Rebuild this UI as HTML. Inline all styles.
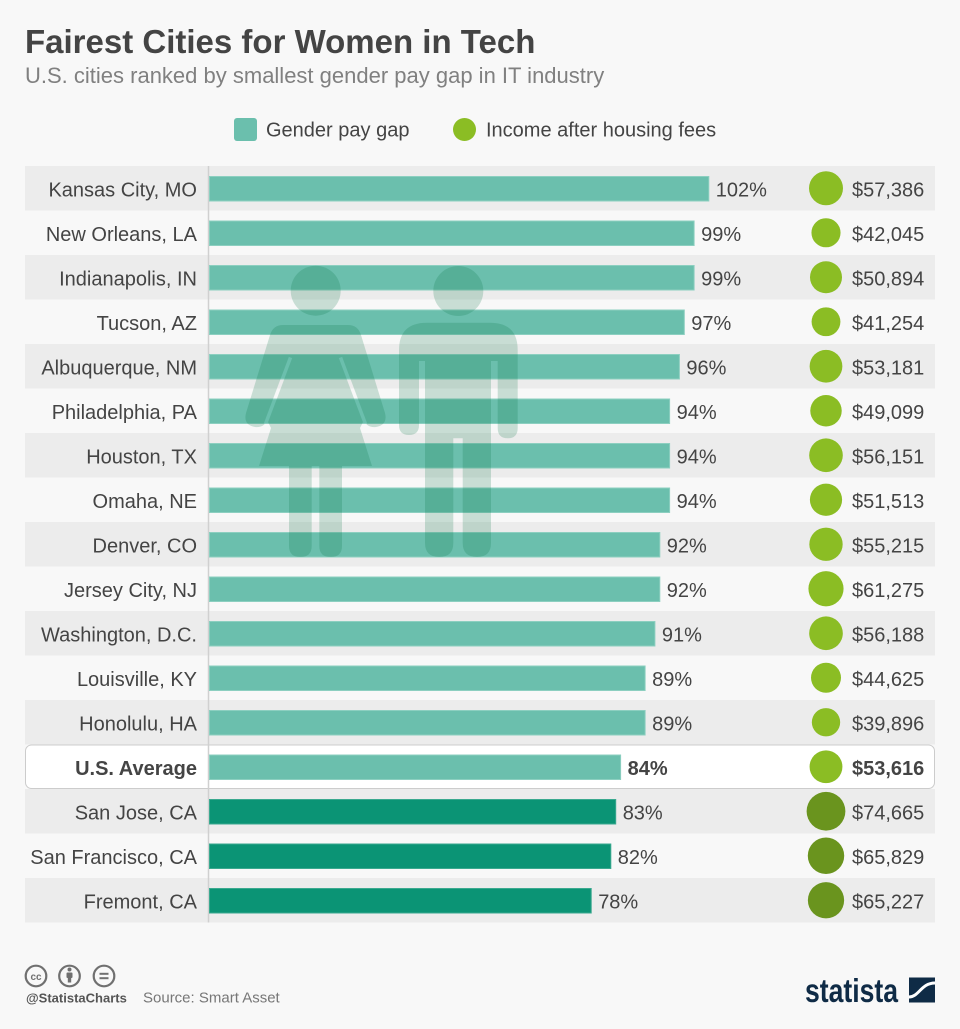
<!DOCTYPE html>
<html>
<head>
<meta charset="utf-8">
<style>
  html, body { margin:0; padding:0; background:#f8f8f8; }
  body { width:960px; height:1029px; overflow:hidden; }
  svg { display:block; font-family:"Liberation Sans", Arial, sans-serif; }
  .lbl { font-size:20px; fill:#444; }
  .b { font-weight:bold; }
</style>
</head>
<body>
<svg width="960" height="1029" viewBox="0 0 960 1029" xmlns="http://www.w3.org/2000/svg">
  <rect x="0" y="0" width="960" height="1029" fill="#f8f8f8"/>

  <!-- Title -->
  <text x="25" y="53" font-size="33" font-weight="bold" fill="#444">Fairest Cities for Women in Tech</text>
  <text x="25" y="83" font-size="22" fill="#808080">U.S. cities ranked by smallest gender pay gap in IT industry</text>

  <!-- Legend -->
  <rect x="234" y="118" width="23" height="23" rx="3" fill="#6bbfad"/>
  <text x="266" y="136.5" class="lbl">Gender pay gap</text>
  <circle cx="464.5" cy="129.5" r="11.5" fill="#8bbd24"/>
  <text x="486" y="136.5" class="lbl">Income after housing fees</text>

  <!-- Row bands -->
  <g fill="#ececec">
    <rect x="25" y="166" width="910" height="44.5"/>
    <rect x="25" y="255" width="910" height="44.5"/>
    <rect x="25" y="344" width="910" height="44.5"/>
    <rect x="25" y="433" width="910" height="44.5"/>
    <rect x="25" y="522" width="910" height="44.5"/>
    <rect x="25" y="611" width="910" height="44.5"/>
    <rect x="25" y="700" width="910" height="44.5"/>
    <rect x="25" y="789" width="910" height="44.5"/>
    <rect x="25" y="878" width="910" height="44.5"/>
  </g>
  <!-- US average box -->
  <rect x="25.5" y="745" width="909" height="43.5" rx="6" fill="#ffffff" stroke="#cccccc" stroke-width="1"/>

  <!-- axis line -->
  <line x1="208.5" y1="166" x2="208.5" y2="922.5" stroke="#d0d0d0" stroke-width="1.5"/>

  <!-- Bars -->
  <g fill="#6bbfad" stroke="#8ccfc0" stroke-width="1">
    <rect x="209.5" y="176.5" width="499.3" height="24.5"/>
    <rect x="209.5" y="221" width="484.6" height="24.5"/>
    <rect x="209.5" y="265.5" width="484.6" height="24.5"/>
    <rect x="209.5" y="310" width="474.8" height="24.5"/>
    <rect x="209.5" y="354.5" width="469.9" height="24.5"/>
    <rect x="209.5" y="399" width="460.1" height="24.5"/>
    <rect x="209.5" y="443.5" width="460.1" height="24.5"/>
    <rect x="209.5" y="488" width="460.1" height="24.5"/>
    <rect x="209.5" y="532.5" width="450.3" height="24.5"/>
    <rect x="209.5" y="577" width="450.3" height="24.5"/>
    <rect x="209.5" y="621.5" width="445.4" height="24.5"/>
    <rect x="209.5" y="666" width="435.6" height="24.5"/>
    <rect x="209.5" y="710.5" width="435.6" height="24.5"/>
    <rect x="209.5" y="755" width="411.1" height="24.5"/>
  </g>
  <g fill="#0b9475" stroke="#3aa98f" stroke-width="1">
    <rect x="209.5" y="799.5" width="406.2" height="24.5"/>
    <rect x="209.5" y="844" width="401.3" height="24.5"/>
    <rect x="209.5" y="888.5" width="381.7" height="24.5"/>
  </g>

  <!-- Person overlay -->
  <defs>
    <mask id="wgap" maskUnits="userSpaceOnUse" x="0" y="0" width="960" height="1029">
      <rect x="0" y="0" width="960" height="1029" fill="#fff"/>
      <line x1="290.5" y1="357.5" x2="265.5" y2="424" stroke="#000" stroke-width="3.5"/>
      <line x1="340.5" y1="357.5" x2="365.5" y2="424" stroke="#000" stroke-width="3.5"/>
    </mask>
  </defs>
  <g fill="#00703f" opacity="0.19">
    <g mask="url(#wgap)">
      <circle cx="315.7" cy="290.7" r="25"/>
      <path d="M283 325 L348 325 Q358 325 361 335 L385 413 Q388 425 376 427 Q367 428 364 420 L360 428 L372 466 L259 466 L271 428 L267 420 Q264 428 255 427 Q243 425 246 413 L270 335 Q273 325 283 325 Z"/>
      <path d="M289 465 L311.7 465 L311.7 546 Q311.7 557 300.3 557 Q289 557 289 546 Z"/>
      <path d="M319.3 465 L342 465 L342 546 Q342 557 330.7 557 Q319.3 557 319.3 546 Z"/>
    </g>
    <circle cx="458.3" cy="291" r="25"/>
    <path d="M427 322.7 L490 322.7 Q517.7 322.7 517.7 350 L517.7 428 Q517.7 438.3 507.7 438.3 Q497.7 438.3 497.7 428 L497.7 361 L491 361 L491 543 Q491 557 477 557 Q462.7 557 462.7 543 L462.7 438.3 L453.3 438.3 L453.3 543 Q453.3 557 439.3 557 Q425 557 425 543 L425 361 L419 361 L419 425 Q419 435 409 435 Q399 435 399 425 L399 350 Q399 322.7 427 322.7 Z"/>
  </g>

  <!-- City labels -->
  <g class="lbl" text-anchor="end">
    <text x="197" y="196.5">Kansas City, MO</text>
    <text x="197" y="241">New Orleans, LA</text>
    <text x="197" y="285.5">Indianapolis, IN</text>
    <text x="197" y="330">Tucson, AZ</text>
    <text x="197" y="374.5">Albuquerque, NM</text>
    <text x="197" y="419">Philadelphia, PA</text>
    <text x="197" y="463.5">Houston, TX</text>
    <text x="197" y="508">Omaha, NE</text>
    <text x="197" y="552.5">Denver, CO</text>
    <text x="197" y="597">Jersey City, NJ</text>
    <text x="197" y="641.5">Washington, D.C.</text>
    <text x="197" y="686">Louisville, KY</text>
    <text x="197" y="730.5">Honolulu, HA</text>
    <text x="197" y="775" class="b" font-weight="bold">U.S. Average</text>
    <text x="197" y="819.5">San Jose, CA</text>
    <text x="197" y="864">San Francisco, CA</text>
    <text x="197" y="908.5">Fremont, CA</text>
  </g>

  <!-- Percent labels -->
  <g class="lbl">
    <text x="715.8" y="196.5">102%</text>
    <text x="701.1" y="241">99%</text>
    <text x="701.1" y="285.5">99%</text>
    <text x="691.3" y="330">97%</text>
    <text x="686.4" y="374.5">96%</text>
    <text x="676.6" y="419">94%</text>
    <text x="676.6" y="463.5">94%</text>
    <text x="676.6" y="508">94%</text>
    <text x="666.8" y="552.5">92%</text>
    <text x="666.8" y="597">92%</text>
    <text x="661.9" y="641.5">91%</text>
    <text x="652.1" y="686">89%</text>
    <text x="652.1" y="730.5">89%</text>
    <text x="627.6" y="775" font-weight="bold">84%</text>
    <text x="622.7" y="819.5">83%</text>
    <text x="617.8" y="864">82%</text>
    <text x="598.2" y="908.5">78%</text>
  </g>

  <!-- Income circles -->
  <g fill="#8bbd24">
    <circle cx="826" cy="188.25" r="17"/>
    <circle cx="826" cy="232.75" r="14.55"/>
    <circle cx="826" cy="277.25" r="16.01"/>
    <circle cx="826" cy="321.75" r="14.41"/>
    <circle cx="826" cy="366.25" r="16.37"/>
    <circle cx="826" cy="410.75" r="15.73"/>
    <circle cx="826" cy="455.25" r="16.82"/>
    <circle cx="826" cy="499.75" r="16.11"/>
    <circle cx="826" cy="544.25" r="16.68"/>
    <circle cx="826" cy="588.75" r="17.57"/>
    <circle cx="826" cy="633.25" r="16.82"/>
    <circle cx="826" cy="677.75" r="14.99"/>
    <circle cx="826" cy="722.25" r="14.18"/>
    <circle cx="826" cy="766.75" r="16.43"/>
  </g>
  <g fill="#6a941e">
    <circle cx="826" cy="811.25" r="19.39"/>
    <circle cx="826" cy="855.75" r="18.21"/>
    <circle cx="826" cy="900.25" r="18.13"/>
  </g>

  <!-- Income labels -->
  <g class="lbl">
    <text x="852" y="196.5">$57,386</text>
    <text x="852" y="241">$42,045</text>
    <text x="852" y="285.5">$50,894</text>
    <text x="852" y="330">$41,254</text>
    <text x="852" y="374.5">$53,181</text>
    <text x="852" y="419">$49,099</text>
    <text x="852" y="463.5">$56,151</text>
    <text x="852" y="508">$51,513</text>
    <text x="852" y="552.5">$55,215</text>
    <text x="852" y="597">$61,275</text>
    <text x="852" y="641.5">$56,188</text>
    <text x="852" y="686">$44,625</text>
    <text x="852" y="730.5">$39,896</text>
    <text x="852" y="775" font-weight="bold">$53,616</text>
    <text x="852" y="819.5">$74,665</text>
    <text x="852" y="864">$65,829</text>
    <text x="852" y="908.5">$65,227</text>
  </g>

  <!-- Footer: CC icons -->
  <g fill="none" stroke="#707070" stroke-width="2.2">
    <circle cx="36" cy="976" r="10.3"/>
    <circle cx="69.5" cy="976" r="10.3"/>
    <circle cx="104" cy="976" r="10.3"/>
  </g>
  <text x="36" y="980" font-size="10" font-weight="bold" fill="#707070" text-anchor="middle">cc</text>
  <g fill="#707070">
    <circle cx="69.5" cy="969.5" r="2"/>
    <rect x="66.5" y="972.5" width="6" height="5.5" rx="1"/>
    <rect x="67.8" y="977" width="3.4" height="5.5"/>
    <rect x="99.5" y="972.8" width="9" height="2"/>
    <rect x="99.5" y="977.2" width="9" height="2"/>
  </g>
  <text x="26" y="1002.5" font-size="13" font-weight="bold" fill="#555">@StatistaCharts</text>
  <text x="143" y="1002.5" font-size="15" fill="#777">Source: Smart Asset</text>

  <!-- Statista logo -->
  <text x="805" y="1002" font-size="33" font-weight="bold" fill="#0f2b46" textLength="93" lengthAdjust="spacingAndGlyphs">statista</text>
  <rect x="909" y="977.5" width="26" height="25" fill="#0f2b46"/>
  <path d="M909 997 C919 997 921 983 935 983" fill="none" stroke="#ffffff" stroke-width="3"/>
</svg>
</body>
</html>
